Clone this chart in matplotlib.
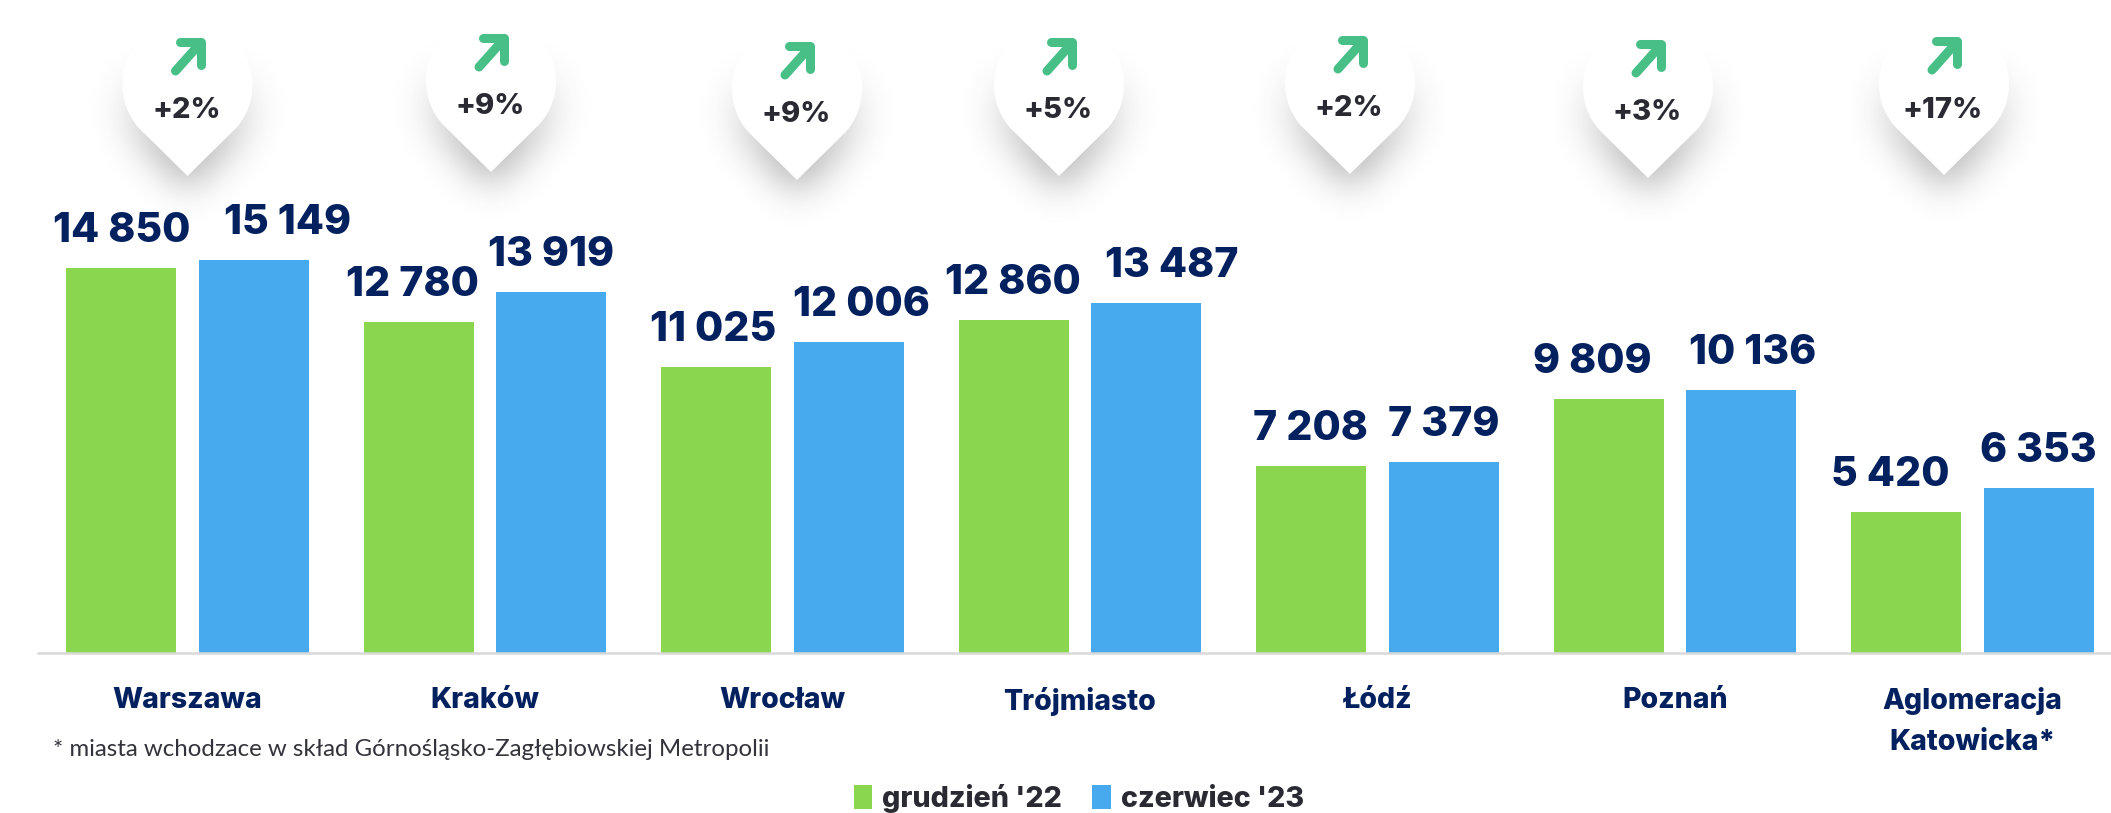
import numpy as np
import matplotlib
matplotlib.use("Agg")
import matplotlib.pyplot as plt
from matplotlib.path import Path
from matplotlib.patches import PathPatch

W, H = 2111, 813

# --------------------------------------------
# Data
# --------------------------------------------
cities = ["Warszawa", "Kraków", "Wrocław", "Trójmiasto", "Łódź", "Poznań", "Aglomeracja\nKatowicka*"]
dec_22 = [14850, 12780, 11025, 12860, 7208, 9809, 5420]
jun_23 = [15149, 13919, 12006, 13487, 7379, 10136, 6353]
changes = ["+2%", "+9%", "+9%", "+5%", "+2%", "+3%", "+17%"]
series_names = ["grudzień '22", "czerwiec '23"]
footnote = "* miasta wchodzace w skład Górnośląsko-Zagłębiowskiej Metropolii"

# label nudges in pixels, the labels do not sit exactly over their bars
dec_nudge = [0, -7, -3, -1, -1, -17, -16]
jun_nudge = [34, 0, 13, 26, 0, 12, 0]

# pin tips in pixels from the top left
pin_x = [187.5, 491, 797, 1059, 1350, 1648, 1944]
pin_y = [176, 172, 180, 176, 174, 178, 175]

GREEN = "#8AD64F"
BLUE = "#47A9EE"
NAVY = "#03205F"
DARK = "#2A2A33"
ARROW = "#47BF87"

plt.rcParams["font.family"] = ["Inter", "DejaVu Sans"]

fig = plt.figure(figsize=(W / 100, H / 100), dpi=100)

# --------------------------------------------
# Pins go on a pixel axes behind the chart
# --------------------------------------------
ax_pin = fig.add_axes([0, 0, 1, 1], zorder=0)
ax_pin.set_xlim(0, W)
ax_pin.set_ylim(H, 0)
ax_pin.axis("off")


def pin_outline(tx, ty):
    r = 65
    cy = ty - 91
    a = np.linspace(np.radians(221), np.radians(-41), 80)
    xs = tx + r * np.cos(a)
    ys = cy - r * np.sin(a)
    return np.vstack([[tx, ty], np.column_stack([xs, ys]), [tx, ty]])


# shadow: blurred mask of each pin, fading out towards the top
yy, xx = np.mgrid[0:H, 0:W]
grid = np.column_stack([xx.ravel(), yy.ravel()])
mask = np.zeros((H, W))
for tx, ty in zip(pin_x, pin_y):
    inside = Path(pin_outline(tx, ty)).contains_points(grid).reshape(H, W)
    ramp = np.clip((yy - (ty - 125)) / 95.0, 0, 1)
    mask += np.roll(inside * ramp, 14, axis=0)

t = np.arange(-54, 55)
kernel = np.exp(-t**2 / (2 * 18.0**2))
kernel /= kernel.sum()
blur = np.apply_along_axis(lambda r: np.convolve(r, kernel, mode="same"), 0, mask)
blur = np.apply_along_axis(lambda r: np.convolve(r, kernel, mode="same"), 1, blur)
shadow = np.zeros((H, W, 4))
shadow[..., :3] = 0.25
shadow[..., 3] = np.clip(blur, 0, 1) * 0.42
ax_pin.imshow(shadow, extent=(0, W, H, 0), aspect="auto", interpolation="bilinear", zorder=1)

for tx, ty, label in zip(pin_x, pin_y, changes):
    ax_pin.add_patch(PathPatch(Path(pin_outline(tx, ty)), facecolor="white", edgecolor="none", zorder=2))
    # arrow
    ax_pin.plot([tx - 12, tx + 13], [ty - 105, ty - 133], color=ARROW, lw=6.5,
                solid_capstyle="round", zorder=3)
    ax_pin.plot([tx - 8, tx + 13, tx + 13], [ty - 134, ty - 134, ty - 111], color=ARROW, lw=6.5,
                solid_capstyle="round", solid_joinstyle="round", zorder=3)
    ax_pin.text(tx - 1, ty - 65, label, fontsize=21, fontweight=800, color=DARK,
                ha="center", va="center", zorder=3)

# --------------------------------------------
# Bars
# --------------------------------------------
base_px = 653
ax_left = 38
ax = fig.add_axes([ax_left / W, (H - base_px) / H, 1 - ax_left / W, base_px / H], zorder=1)
ax.patch.set_visible(False)

x = np.arange(len(cities))
offset = 0.222
width = 0.37
bars1 = ax.bar(x - offset, dec_22, width, color=GREEN, label=series_names[0])
bars2 = ax.bar(x + offset, jun_23, width, color=BLUE, label=series_names[1])

# 297.5 px per group, first group centred at 187.5 px
ax.set_xlim((ax_left - 187.5) / 297.5, (W - 187.5) / 297.5)
ax.set_ylim(0, base_px / 0.02593)

for bars, values, nudges in [(bars1, dec_22, dec_nudge), (bars2, jun_23, jun_nudge)]:
    for bar, v, n in zip(bars, values, nudges):
        s = f"{v:,}".replace(",", " ")
        ax.annotate(s, (bar.get_x() + bar.get_width() / 2, v), xytext=(n * 0.72, 26 * 0.72),
                    textcoords="offset points", ha="center", va="baseline",
                    fontsize=29.5, fontweight=800, color=NAVY)

for side in ["top", "left", "right"]:
    ax.spines[side].set_visible(False)
ax.spines["bottom"].set_color("#D9D9D9")
ax.spines["bottom"].set_linewidth(1.8)
ax.set_yticks([])
ax.set_xticks(x)
ax.set_xticklabels(cities, fontsize=20.5, fontweight=800, color=NAVY, linespacing=1.65)
ax.tick_params(axis="x", length=0, pad=24.5)

# --------------------------------------------
# Footnote and legend
# --------------------------------------------
fig.text(53 / W, 1 - 749 / H, footnote, fontsize=17.3, color="#33333B", va="center", family=["Lato", "DejaVu Sans"])

leg = fig.legend(handles=[bars1, bars2], loc="center", bbox_to_anchor=(1079 / W, 1 - 798 / H),
                 ncol=2, frameon=False, labelcolor=DARK,
                 prop={"weight": 800, "size": 20.6},
                 handlelength=0.65, handleheight=0.9, handletextpad=0.35, columnspacing=1.05)

plt.savefig("out.png", dpi=100)
